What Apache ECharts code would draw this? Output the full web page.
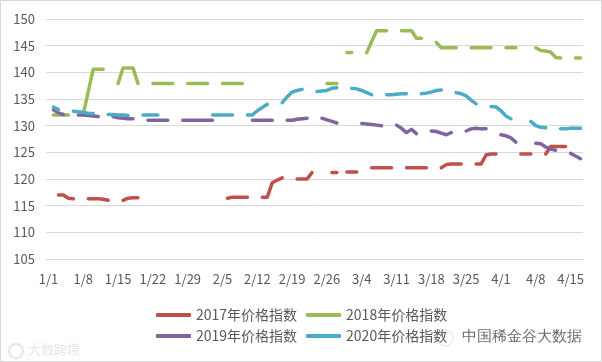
<!DOCTYPE html>
<html>
<head>
<meta charset="utf-8">
<script src="https://cdn.jsdelivr.net/npm/echarts@6/dist/echarts.min.js"></script>
<style>html,body{margin:0;padding:0;background:#fff}#c{width:602px;height:362px}</style>
</head>
<body>
<div id="c"></div>
<script>
// Category axis: daily dates of a leap-year calendar, 1/1 .. 4/17
var monthDays = [31, 29, 31, 17];
var categories = [];
for (var m = 0; m < monthDays.length; m++) {
  for (var d = 1; d <= monthDays[m]; d++) categories.push((m + 1) + '/' + d);
}
var N = null;
var seriesNames = ['2017年价格指数', '2018年价格指数', '2019年价格指数', '2020年价格指数'];
var yTicks = [105, 110, 115, 120, 125, 130, 135, 140, 145, 150];

var s2017 = [N,N,117.0,117.0,116.4,116.3,N,N,116.3,116.3,116.3,116.2,116.0,N,N,116.0,116.4,116.5,116.5,
  N,N,N,N,N,N,N,N,N,N,N,N,N,N,N,N,N,
  116.4,116.6,116.6,116.6,116.6,N,N,116.6,116.6,119.3,119.8,120.2,N,N,120.0,120.0,120.0,121.2,N,N,N,
  121.2,121.2,N,121.3,121.3,121.3,N,N,122.1,122.1,122.1,122.1,122.1,N,N,122.1,122.1,122.1,122.1,122.1,N,N,
  122.1,122.7,122.8,122.8,122.8,N,N,122.8,122.8,124.5,124.7,124.7,N,N,N,N,124.7,124.7,124.7,N,N,
  124.7,126.1,126.1,126.1,126.1,N,N,N];

var s2018 = [N,132.0,132.0,132.0,132.0,N,N,132.2,136.4,140.6,140.6,140.6,N,N,137.9,140.8,140.8,140.8,137.9,N,N,
  137.9,137.9,137.9,137.9,137.9,N,N,137.9,137.9,137.9,137.9,137.9,N,N,137.9,137.9,137.9,137.9,137.9,
  N,N,N,N,N,N,N,N,N,N,N,N,N,N,N,N,
  137.9,137.9,137.9,N,143.7,143.7,N,N,143.7,145.8,147.8,147.8,147.8,N,N,147.8,147.8,147.8,146.4,146.4,N,N,
  145.6,144.6,144.6,144.6,144.6,N,N,144.6,144.6,144.6,144.6,144.6,N,N,144.6,144.6,144.6,N,N,N,
  144.6,144.1,144.0,143.8,142.8,142.7,N,N,142.7,142.7];

var s2019 = [N,133.0,132.4,132.1,N,N,132.0,132.0,131.9,131.8,131.7,N,N,131.7,131.5,131.4,131.3,131.3,N,N,
  131.0,131.0,131.0,131.0,131.0,N,N,131.0,131.0,131.0,131.0,131.0,131.0,131.0,N,N,N,N,N,N,N,
  131.0,131.0,131.0,131.0,131.0,N,N,131.0,131.0,131.2,131.3,131.4,N,N,131.4,131.1,130.8,130.5,N,130.3,N,N,
  130.4,130.3,130.2,130.1,130.0,N,N,130.1,129.5,128.7,129.3,128.5,N,N,129.0,128.9,128.6,128.3,128.7,N,N,
  129.0,129.4,129.5,129.4,129.4,N,N,128.3,128.1,127.7,126.9,N,N,N,126.7,126.6,126.0,125.6,125.4,N,N,
  124.8,124.3,123.8];

var s2020 = [N,133.5,133.0,N,N,132.7,132.6,132.5,132.3,132.3,N,N,132.1,132.1,132.0,132.0,131.9,N,N,
  132.0,132.0,132.0,132.0,N,N,N,N,N,N,N,N,N,N,
  132.0,132.0,132.0,132.0,132.0,N,N,132.0,132.0,132.8,133.4,134.0,N,N,134.3,135.4,136.3,136.6,136.8,N,N,
  136.4,136.5,136.6,137.0,137.1,N,N,137.0,136.9,136.6,136.2,135.8,N,N,135.8,135.8,135.9,136.0,136.0,N,N,
  136.0,136.1,136.3,136.6,136.7,N,N,136.2,136.0,135.6,134.8,134.1,N,N,133.6,133.5,132.8,131.8,131.3,N,N,N,
  130.8,130.0,129.7,129.6,N,N,129.4,129.4,129.5,129.5,129.5];

var colors = ['#C0504D', '#9BBB59', '#8064A2', '#4BACC6'];
var seriesData = [s2017, s2018, s2019, s2020];
var font = '"Noto Sans CJK SC", "Microsoft YaHei", sans-serif';

var chart = echarts.init(document.getElementById('c'), null, {renderer: 'canvas'});
var legendBase = {
  left: 156, itemWidth: 35, itemHeight: 4, itemGap: 9, icon: 'roundRect',
  textStyle: {fontSize: 14, color: '#595959', fontFamily: font}, padding: 0
};
chart.setOption({
  animation: false,
  backgroundColor: '#fff',
  color: colors,
  grid: {left: 46, right: 19, top: 19, bottom: 103, containLabel: false},
  xAxis: {
    type: 'category', data: categories, boundaryGap: true,
    axisLine: {lineStyle: {color: '#d9d9d9', width: 1}},
    axisTick: {interval: 6, length: 5, lineStyle: {color: '#d9d9d9'}},
    axisLabel: {interval: 6, color: '#595959', fontSize: 13, margin: 14, fontFamily: font}
  },
  yAxis: {
    type: 'value', min: yTicks[0], max: yTicks[yTicks.length - 1], interval: 5,
    axisLine: {show: false}, axisTick: {show: false},
    splitLine: {lineStyle: {color: '#d9d9d9', width: 1}},
    axisLabel: {color: '#595959', fontSize: 13, margin: 11, fontFamily: font}
  },
  legend: [
    Object.assign({top: 308, data: [seriesNames[0], seriesNames[1]]}, legendBase),
    Object.assign({top: 329, data: [seriesNames[2], seriesNames[3]]}, legendBase)
  ],
  graphic: [
    {type: 'rect', shape: {x: 0.5, y: 0.5, width: 601, height: 361}, style: {fill: 'none', stroke: '#d9d9d9', lineWidth: 1}, silent: true},
    {type: 'text', left: 462, top: 329, style: {text: '中国稀金谷大数据', fontSize: 15, fill: '#6a6a6a', font: '15px ' + font}, z: 10},
    {type: 'circle', shape: {cx: 445, cy: 338, r: 8}, style: {fill: 'none', stroke: '#e2e2e2', lineWidth: 1}},
    {type: 'text', left: 28, top: 343, style: {text: '大数跨境', fill: '#e6e6e6', font: '13px ' + font}},
    {type: 'circle', shape: {cx: 16, cy: 351, r: 7}, style: {fill: 'none', stroke: '#e6e6e6', lineWidth: 2}}
  ],
  series: seriesNames.map(function (name, i) {
    return {
      name: name, type: 'line', data: seriesData[i], connectNulls: false,
      showSymbol: false, symbol: 'none',
      lineStyle: {width: 3.5, color: colors[i], cap: 'round', join: 'round'},
      itemStyle: {color: colors[i]}
    };
  })
});
</script>
</body>
</html>
